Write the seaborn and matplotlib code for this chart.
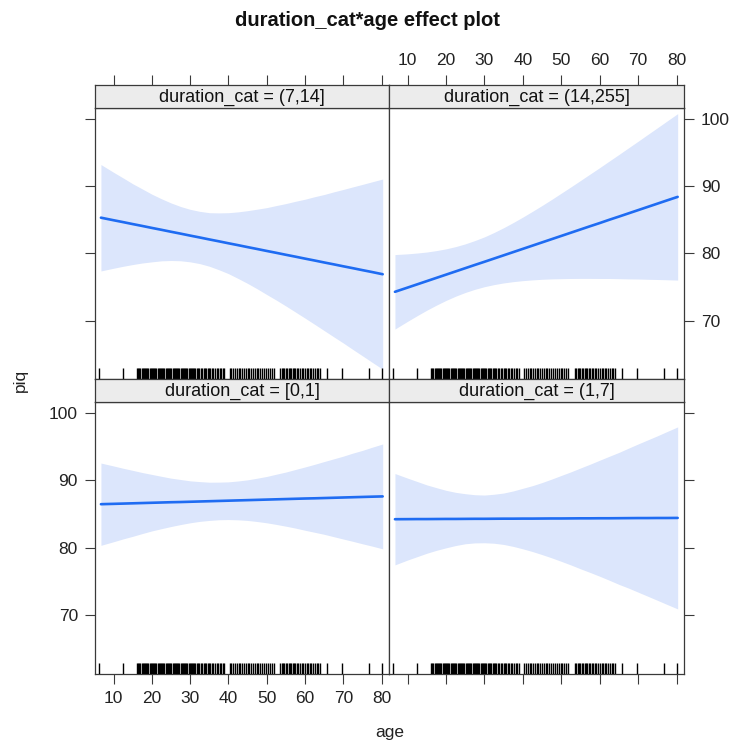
import matplotlib
matplotlib.use("Agg")
import matplotlib.pyplot as plt
import seaborn as sns

sns.set_theme(style="white")
plt.rcParams['font.family'] = ['Liberation Sans', 'DejaVu Sans']

# ---------------- data ----------------
title = "duration_cat*age effect plot"
x_label = "age"
y_label = "piq"
x_ticks = [10, 20, 30, 40, 50, 60, 70, 80]
y_ticks = [70, 80, 90, 100]

panel_labels = ["duration_cat = (7,14]", "duration_cat = (14,255]",
                "duration_cat = [0,1]", "duration_cat = (1,7]"]

age_grid = [6.7, 10, 12.5, 15, 17.5, 20, 22.5, 25, 27.5, 30,
            32.5, 35, 37.5, 40, 42.5, 45, 47.5, 50, 52.5, 55,
            57.5, 60, 62.5, 65, 67.5, 70, 72.5, 75, 77.5, 80.3]

fit_7_14 = [85.31, 84.93, 84.65, 84.36, 84.08, 83.79, 83.51, 83.22, 82.94, 82.65,
            82.37, 82.08, 81.80, 81.51, 81.23, 80.94, 80.66, 80.37, 80.09, 79.80,
            79.52, 79.23, 78.95, 78.66, 78.38, 78.09, 77.81, 77.52, 77.24, 76.91]
lower_7_14 = [77.4, 77.8, 78.09, 78.35, 78.58, 78.75, 78.9, 78.95, 78.91, 78.75,
              78.49, 78.1, 77.58, 77.0, 76.29, 75.55, 74.75, 73.9, 73.07, 72.2,
              71.3, 70.4, 69.48, 68.55, 67.62, 66.7, 65.74, 64.8, 63.85, 62.8]
upper_7_14 = [93.2, 92.05, 91.21, 90.35, 89.58, 88.8, 88.12, 87.5, 86.97, 86.55,
              86.25, 86.05, 86.02, 86.05, 86.17, 86.35, 86.57, 86.8, 87.11, 87.4,
              87.74, 88.05, 88.42, 88.75, 89.14, 89.5, 89.88, 90.25, 90.63, 91.05]

fit_14_255 = [74.3, 74.93, 75.41, 75.89, 76.37, 76.85, 77.33, 77.81, 78.29, 78.76,
              79.24, 79.72, 80.2, 80.68, 81.16, 81.64, 82.12, 82.6, 83.08, 83.56,
              84.04, 84.51, 85.0, 85.47, 85.95, 86.43, 86.91, 87.39, 87.87, 88.4]
lower_14_255 = [68.77, 69.92, 70.76, 71.57, 72.32, 73.02, 73.65, 74.2, 74.67, 75.06,
                75.37, 75.62, 75.81, 75.96, 76.07, 76.16, 76.22, 76.25, 76.28, 76.29,
                76.29, 76.28, 76.28, 76.25, 76.22, 76.2, 76.16, 76.13, 76.09, 76.04]
upper_14_255 = [79.83, 79.94, 80.06, 80.21, 80.42, 80.68, 81.01, 81.42, 81.91, 82.46,
                83.11, 83.82, 84.59, 85.4, 86.25, 87.12, 88.02, 88.95, 89.88, 90.83,
                91.79, 92.74, 93.72, 94.69, 95.68, 96.66, 97.66, 98.65, 99.65, 100.76]

fit_0_1 = [86.45, 86.5, 86.54, 86.58, 86.62, 86.66, 86.7, 86.74, 86.77, 86.81,
           86.85, 86.89, 86.93, 86.97, 87.01, 87.05, 87.09, 87.13, 87.17, 87.21,
           87.25, 87.29, 87.32, 87.36, 87.4, 87.44, 87.48, 87.52, 87.56, 87.6]
lower_0_1 = [80.37, 80.9, 81.32, 81.7, 82.11, 82.5, 82.83, 83.15, 83.44, 83.7,
             83.91, 84.05, 84.15, 84.18, 84.14, 84.05, 83.89, 83.7, 83.46, 83.2,
             82.92, 82.6, 82.3, 82.0, 81.65, 81.3, 80.96, 80.6, 80.26, 79.85]
upper_0_1 = [92.53, 92.1, 91.76, 91.45, 91.13, 90.85, 90.57, 90.3, 90.1, 89.9,
             89.79, 89.7, 89.71, 89.75, 89.88, 90.05, 90.29, 90.55, 90.88, 91.2,
             91.58, 91.95, 92.34, 92.75, 93.15, 93.55, 94.0, 94.4, 94.86, 95.35]

fit_1_7 = [84.23, 84.24, 84.25, 84.25, 84.26, 84.27, 84.27, 84.28, 84.29, 84.29,
           84.3, 84.31, 84.31, 84.32, 84.32, 84.33, 84.34, 84.34, 84.35, 84.36,
           84.36, 84.37, 84.37, 84.38, 84.39, 84.4, 84.4, 84.41, 84.41, 84.42]
lower_1_7 = [77.48, 78.2, 78.7, 79.2, 79.63, 80.0, 80.34, 80.6, 80.73, 80.75,
             80.68, 80.5, 80.21, 79.85, 79.45, 79.0, 78.52, 78.0, 77.47, 76.9,
             76.36, 75.8, 75.21, 74.6, 74.05, 73.45, 72.85, 72.25, 71.64, 70.97]
upper_1_7 = [90.98, 90.3, 89.8, 89.3, 88.89, 88.5, 88.2, 88.0, 87.85, 87.8,
             87.92, 88.1, 88.41, 88.8, 89.19, 89.65, 90.16, 90.7, 91.23, 91.8,
             92.36, 92.95, 93.53, 94.1, 94.73, 95.35, 95.95, 96.55, 97.18, 97.87]

rug_age = [6.3, 12.4,
           16.1, 16.4, 16.7, 17.0, 17.3, 17.6, 17.9, 18.2, 18.5, 18.8,
           19.1, 19.4, 19.7, 20.0, 20.3, 20.6, 20.9, 21.2, 21.5, 21.8,
           22.1, 22.4, 22.7, 23.0, 23.3, 23.6, 23.9, 24.2, 24.5, 24.8,
           25.1, 25.4, 25.7, 26.0, 26.3, 26.6, 26.9, 27.2, 27.5, 27.8,
           28.1, 28.4, 28.7, 29.0, 29.3, 29.6, 29.9, 30.2,
           30.5, 30.8, 31.1, 31.4, 31.8, 32.1, 32.4, 32.8, 33.1, 33.5,
           33.9, 34.2, 34.6, 35.0, 35.3, 35.7, 36.1, 36.4, 36.9, 37.3,
           37.7, 38.1, 38.5, 38.9,
           40.3, 40.8, 41.3, 41.8, 42.2, 42.7, 43.1, 43.6, 44.0, 44.5,
           45.0, 45.4, 45.9, 46.4, 46.9, 47.4, 47.8, 48.3, 48.8, 49.3,
           49.8, 50.3, 50.8, 51.3, 51.8,
           53.6, 53.9, 54.3, 54.6, 55.0, 55.4, 55.7, 56.1, 56.4, 56.8,
           57.2, 57.5, 57.9, 58.3, 58.7, 59.1, 59.6, 60.0, 60.5, 60.9,
           61.3, 61.7, 62.2, 62.6, 63.1, 63.5, 64.0,
           65.8, 69.8, 76.8, 80.0]

# ---------------- layout / style ----------------
W, H = 734, 742
xlim = (5.15, 81.95)
ylim = (61.35, 101.6)
line_col = "#1F6CF2"
band_col = "#DCE6FC"
frame_col = "#3a3a3a"
strip_col = "#ECECEC"

col_x = [(95, 389), (389, 684)]
row_y = [(85, 108, 379), (379, 401.7, 674)]  # strip top, panel top, panel bottom

panels = [
    (0, 0, panel_labels[0], fit_7_14, lower_7_14, upper_7_14),
    (0, 1, panel_labels[1], fit_14_255, lower_14_255, upper_14_255),
    (1, 0, panel_labels[2], fit_0_1, lower_0_1, upper_0_1),
    (1, 1, panel_labels[3], fit_1_7, lower_1_7, upper_1_7),
]

fig = plt.figure(figsize=(W / 100, H / 100), dpi=100)

tick_kw = dict(direction="out", length=7.3, width=0.8, color=frame_col,
               labelsize=12.5, labelcolor="#222222", pad=5)

for row, col, label, fit, lo, hi in panels:
    x0, x1 = col_x[col]
    st, pt, pb = row_y[row]
    ax = fig.add_axes([x0 / W, 1 - pb / H, (x1 - x0) / W, (pb - pt) / H])
    sx = fig.add_axes([x0 / W, 1 - pt / H, (x1 - x0) / W, (pt - st) / H])

    ax.fill_between(age_grid, lo, hi, color=band_col, lw=0, zorder=1)
    sns.lineplot(x=age_grid, y=fit, ax=ax, color=line_col, lw=1.9, zorder=3)
    sns.rugplot(x=rug_age, ax=ax, height=0.042, color="black", lw=0.75,
                expand_margins=False, zorder=4)

    ax.set_xlim(*xlim)
    ax.set_ylim(*ylim)
    ax.set_xticks(x_ticks)
    ax.set_yticks(y_ticks)
    ax.set_xlabel("")
    ax.set_ylabel("")
    for s in ax.spines.values():
        s.set_color(frame_col)
        s.set_linewidth(0.9)

    ax.tick_params(axis="both", **tick_kw)
    ax.tick_params(axis="x", top=False,
                   bottom=(row == 1), labelbottom=(row == 1 and col == 0))
    ax.tick_params(axis="y", left=(col == 0), labelleft=(col == 0 and row == 1),
                   right=(col == 1), labelright=(col == 1 and row == 0))

    # strip
    sx.set_facecolor(strip_col)
    sx.set_xlim(*xlim)
    sx.set_yticks([])
    sx.set_xticks(x_ticks)
    for s in sx.spines.values():
        s.set_color(frame_col)
        s.set_linewidth(0.9)
    sx.tick_params(axis="x", **tick_kw)
    sx.tick_params(axis="x", bottom=False, labelbottom=False,
                   top=(row == 0), labeltop=(row == 0 and col == 1))
    sx.text(0.5, 0.47, label, transform=sx.transAxes, ha="center", va="center",
            fontsize=13, color="#111111")

fig.text(0.5, 1 - 20 / H, title, ha="center", va="center",
         fontsize=14.5, fontweight="bold", color="#111111")
fig.text((95 + 684) / 2 / W, 1 - 732 / H, x_label, ha="center", va="center",
         fontsize=12.5, color="#222222")
fig.text(20 / W, 1 - 380 / H, y_label, ha="center", va="center",
         rotation=90, fontsize=12.5, color="#222222")

fig.savefig("out.png", dpi=100)
